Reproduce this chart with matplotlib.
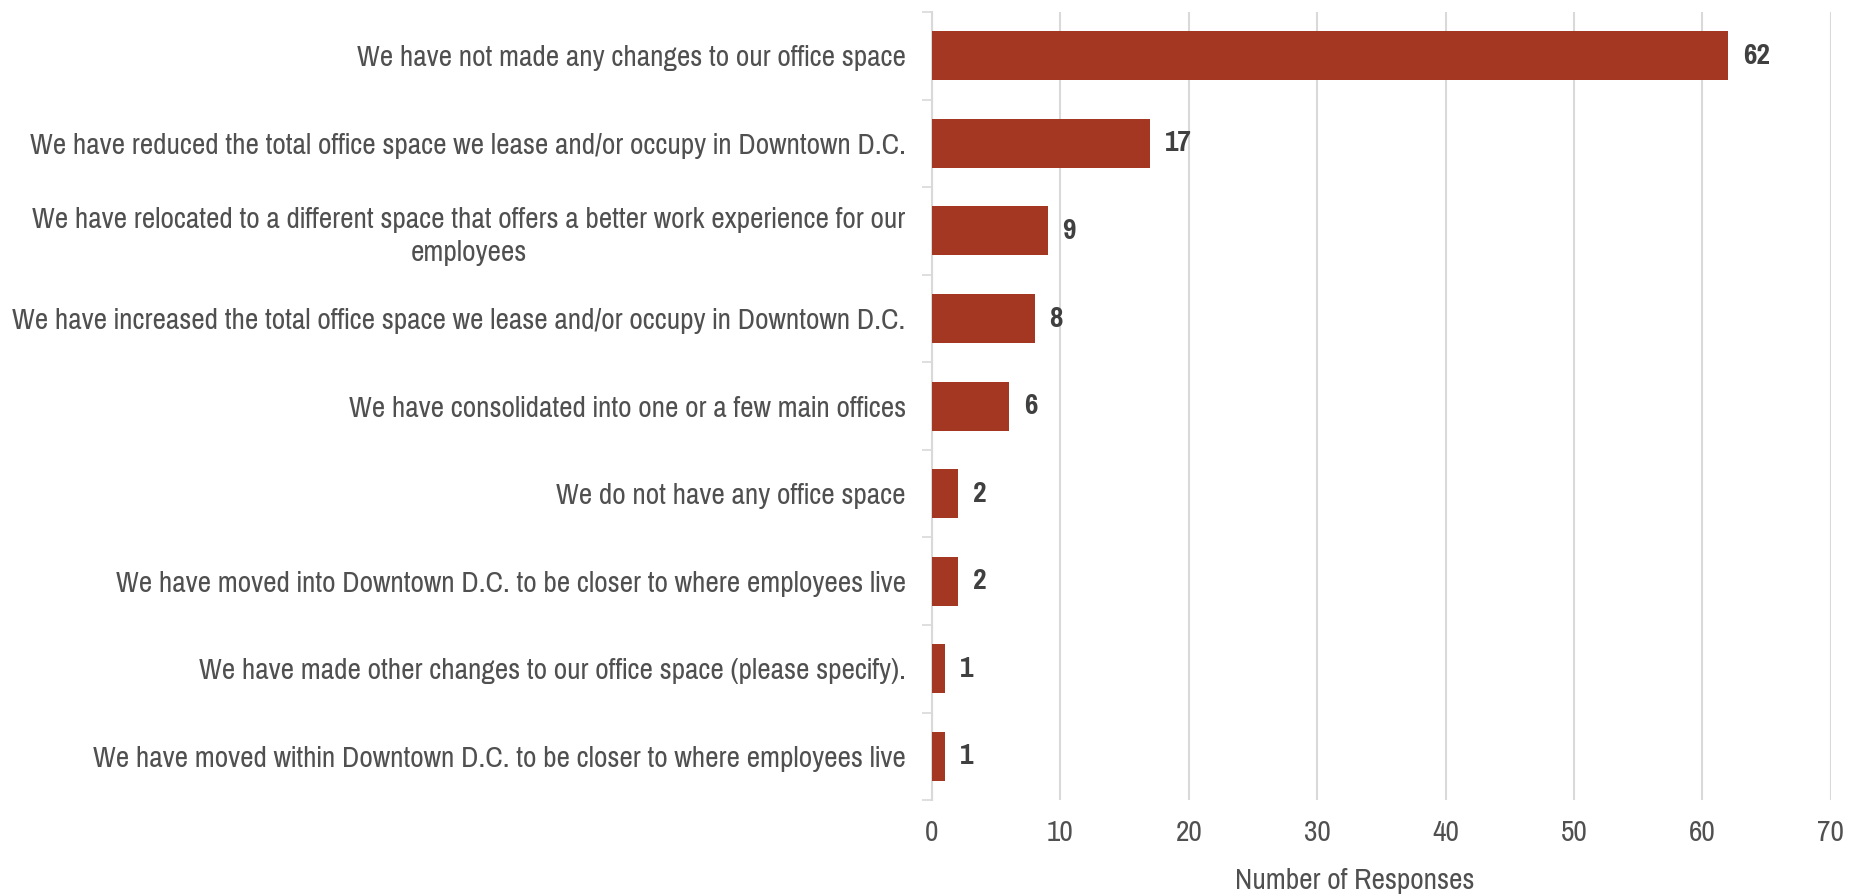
import matplotlib
matplotlib.use("Agg")
import matplotlib.pyplot as plt
import numpy as np

labels = [
    "We have not made any changes to our office space",
    "We have reduced the total office space we lease and/or occupy in Downtown D.C.",
    "We have relocated to a different space that offers a better work experience for our\nemployees",
    "We have increased the total office space we lease and/or occupy in Downtown D.C.",
    "We have consolidated into one or a few main offices",
    "We do not have any office space",
    "We have moved into Downtown D.C. to be closer to where employees live",
    "We have made other changes to our office space (please specify).",
    "We have moved within Downtown D.C. to be closer to where employees live",
]
responses = [62, 17, 9, 8, 6, 2, 2, 1, 1]
xticks = [0, 10, 20, 30, 40, 50, 60, 70]

plt.rcParams["font.family"] = ["Pragati Narrow", "DejaVu Sans"]

bar_color = "#A33722"
text_color = "#505050"
grid_color = "#D9D9D9"
fs = 23

fig = plt.figure(figsize=(18.53, 8.94), dpi=100)
ax = fig.add_axes([0.503, 0.105, 0.485, 0.8815])

y = np.arange(len(labels))
ax.barh(y, responses, height=0.56, color=bar_color, zorder=3)

# value labels just past the bar ends
for yi, v in zip(y, responses):
    ax.text(v + 1.15, yi, str(v), va="center", ha="left", fontsize=fs,
            fontweight="bold", color="#404040")

ax.set_ylim(len(labels) - 0.5, -0.5)
ax.set_xlim(0, 70)
ax.set_xticks(xticks)
ax.set_yticks(y)
ax.set_yticklabels(labels, fontsize=fs, color=text_color, multialignment="center",
                   linespacing=1.3)
# short separator ticks between categories
ax.set_yticks(np.arange(-0.5, len(labels)), minor=True)

ax.tick_params(axis="y", which="major", length=0, pad=19)
ax.tick_params(axis="y", which="minor", length=7, width=1.2, color=grid_color)
ax.tick_params(axis="x", length=0, pad=14, labelsize=fs, labelcolor=text_color)

ax.grid(axis="x", color=grid_color, linewidth=1.5, zorder=0)
for side in ["top", "right", "bottom"]:
    ax.spines[side].set_visible(False)
ax.spines["left"].set_color(grid_color)
ax.spines["left"].set_linewidth(1.5)

fig.text(0.731, 0.015, "Number of Responses", ha="center", va="center",
         fontsize=fs, color=text_color)

fig.savefig("out.png", dpi=100)
